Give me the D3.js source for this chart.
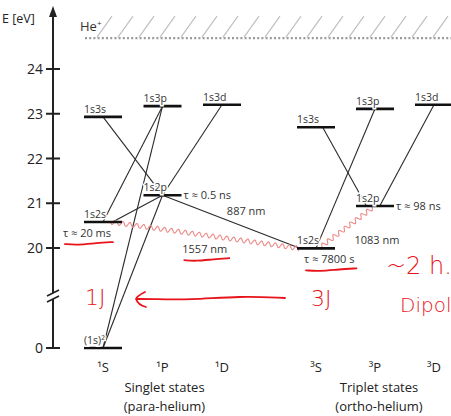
<!DOCTYPE html>
<html>
<head>
<meta charset="utf-8">
<script src="https://cdn.jsdelivr.net/npm/d3@7"></script>
<style>
  body { margin: 0; background: #fff; }
  svg { display: block; font-family: "Open Sans", sans-serif; }
</style>
</head>
<body>
<div id="chart"></div>
<script>
// helium term scheme, energies in eV
var tickValues = [0, 20, 21, 22, 23, 24];
var ionLimit = 24.69;

var singletTerms = ["¹S", "¹P", "¹D"];
var tripletTerms = ["³S", "³P", "³D"];

var levelIds     = ["g", "S2s", "S2p", "S3s", "S3p", "S3d", "T2s", "T2p", "T3s", "T3p", "T3d"];
var levelLabels  = ["(1s)²", "1s2s", "1s2p", "1s3s", "1s3p", "1s3d", "1s2s", "1s2p", "1s3s", "1s3p", "1s3d"];
var levelTerms   = ["¹S", "¹S", "¹P", "¹S", "¹P", "¹D", "³S", "³P", "³S", "³P", "³D"];
var levelEnergy  = [0, 20.58, 21.18, 22.93, 23.17, 23.20, 19.93, 20.94, 22.70, 23.11, 23.20];

var transFrom  = ["S3s", "S3p", "S3p", "S2p", "S3d", "S2p", "S2p", "S2s", "T3s", "T3p", "T3d", "T2p"];
var transTo    = ["S2p", "S2s", "g",   "g",   "S2p", "S2s", "T2s", "T2s", "T2p", "T2s", "T2p", "T2s"];
var transWavy  = [false, false, false, false, false, false, false, true, false, false, false, true];
var transLabel = ["", "", "", "", "", "", "887 nm", "1557 nm", "", "", "", "1083 nm"];

var lifeLevel = ["S2s", "S2p", "T2p", "T2s"];
var lifeText  = ["τ ≈ 20 ms", "τ ≈ 0.5 ns", "τ ≈ 98 ns", "τ ≈ 7800 s"];

var width = 451, height = 416;
var halfW = 19;

var svg = d3.select("#chart").append("svg")
  .attr("width", width)
  .attr("height", height);

var y = d3.scaleLinear().domain([0, 20, 24]).range([348, 248, 69]);
var xS = d3.scalePoint().domain(singletTerms).range([103, 222]);
var xT = d3.scalePoint().domain(tripletTerms).range([316, 434]);
var xCol = function(t) { return singletTerms.indexOf(t) >= 0 ? xS(t) : xT(t); };

var lev = {};
levelIds.forEach(function(id, i) {
  lev[id] = {label: levelLabels[i], x: xCol(levelTerms[i]), y: y(levelEnergy[i])};
});

// ionisation limit: hatching + dotted line
var yIon = y(ionLimit);
var hatch = svg.append("g");
d3.range(97, width, 21).forEach(function(hx) {
  hatch.append("line")
    .attr("x1", hx).attr("y1", yIon - 1)
    .attr("x2", hx + 15).attr("y2", yIon - 22)
    .attr("stroke", "#bdbdbd").attr("stroke-width", 1.1);
});
svg.append("line")
  .attr("x1", 85).attr("x2", width)
  .attr("y1", yIon).attr("y2", yIon)
  .attr("stroke", "#9a9a9a").attr("stroke-width", 2.2)
  .attr("stroke-dasharray", "2,2.2");
svg.append("text")
  .attr("x", 80).attr("y", yIon - 7)
  .attr("font-size", 13).attr("fill", "#333")
  .html('He<tspan dy="-5" font-size="8">+</tspan>');

// axis with break
var axX = 53;
var ax = svg.append("g").attr("stroke", "#222").attr("stroke-width", 2);
ax.append("line").attr("x1", axX).attr("x2", axX).attr("y1", y(0)).attr("y2", 299);
ax.append("line").attr("x1", axX).attr("x2", axX).attr("y1", 293).attr("y2", 14);
svg.append("path")
  .attr("d", "M" + (axX - 4) + ",17 L" + axX + ",6 L" + (axX + 4) + ",17 Z")
  .attr("fill", "#222");
[293, 299].forEach(function(by) {
  ax.append("line")
    .attr("x1", axX - 6).attr("y1", by + 3)
    .attr("x2", axX + 6).attr("y2", by - 3)
    .attr("stroke-width", 1.6);
});
tickValues.forEach(function(t) {
  ax.append("line").attr("x1", axX - 7).attr("x2", axX + 7)
    .attr("y1", y(t)).attr("y2", y(t));
  svg.append("text")
    .attr("x", axX - 10).attr("y", y(t) + 5)
    .attr("text-anchor", "end").attr("font-size", 14).attr("fill", "#222")
    .text(t);
});
svg.append("text")
  .attr("x", 2).attr("y", 23)
  .attr("font-size", 12.5).attr("fill", "#222")
  .text("E [eV]");

// transitions
function endPt(id, f) {
  return [lev[id].x + f * halfW, lev[id].y];
}
var fromShift = [0, 0, 0, 0, 0, 0, 0, 0.4, 0.35, 0, 0, 0];
var toShift   = [0, 0, 0, 0, 0, 0.5, -0.85, -0.9, -0.45, 0, 0.25, 0.15];
var labelOff  = [null, null, null, null, null, null, [15, -11], [0, 14], [30, 12]];
labelOff[11] = [30, 13];

function wavyPath(p0, p1) {
  var dx = p1[0] - p0[0], dy = p1[1] - p0[1];
  var len = Math.sqrt(dx * dx + dy * dy);
  var nx = -dy / len, ny = dx / len;
  var pts = d3.range(0, len, 0.5).map(function(s) {
    var a = 2.2 * Math.sin(2 * Math.PI * s / 7);
    return [p0[0] + dx * s / len + nx * a, p0[1] + dy * s / len + ny * a];
  });
  pts.push(p1);
  return d3.line()(pts);
}

var tg = svg.append("g");
transFrom.forEach(function(f, i) {
  var p0 = endPt(f, fromShift[i]), p1 = endPt(transTo[i], toShift[i]);
  if (transWavy[i]) {
    tg.append("path").attr("d", wavyPath(p0, p1))
      .attr("fill", "none").attr("stroke", "#ec8a88").attr("stroke-width", 1.1);
  } else {
    tg.append("line")
      .attr("x1", p0[0]).attr("y1", p0[1]).attr("x2", p1[0]).attr("y2", p1[1])
      .attr("stroke", "#2a2a2a").attr("stroke-width", 1.1);
  }
  if (transLabel[i]) {
    var o = labelOff[i];
    svg.append("text")
      .attr("id", "tl" + i)
      .attr("x", (p0[0] + p1[0]) / 2 + o[0]).attr("y", (p0[1] + p1[1]) / 2 + o[1] + 4)
      .attr("text-anchor", "middle").attr("font-size", 11).attr("fill", "#333")
      .text(transLabel[i]);
  }
});

// levels
var lg = svg.append("g");
levelIds.forEach(function(id) {
  var l = lev[id];
  lg.append("line")
    .attr("x1", l.x - halfW).attr("x2", l.x + halfW)
    .attr("y1", l.y).attr("y2", l.y)
    .attr("stroke", "#111").attr("stroke-width", 2.6);
  lg.append("text")
    .attr("x", l.x - halfW).attr("y", l.y - 4)
    .attr("font-size", 10.5).attr("fill", "#333")
    .attr("stroke", "#fff").attr("stroke-width", 3).attr("paint-order", "stroke")
    .text(l.label);
});

// lifetimes
var lifeAnchor = {S2s: ["end", 8, 15], S2p: ["start", 21, 4], T2p: ["start", 21, 4], T2s: ["start", -12, 15]};
lifeLevel.forEach(function(id, i) {
  var l = lev[id], a = lifeAnchor[id];
  svg.append("text")
    .attr("id", "life" + id)
    .attr("x", l.x + a[1]).attr("y", l.y + a[2])
    .attr("text-anchor", a[0]).attr("font-size", 11).attr("fill", "#333")
    .text(lifeText[i]);
});

// term labels
singletTerms.concat(tripletTerms).forEach(function(t) {
  svg.append("text")
    .attr("x", xCol(t)).attr("y", 372)
    .attr("text-anchor", "middle").attr("font-size", 13).attr("fill", "#222")
    .text(t);
});
[["Singlet states", "(para-helium)", d3.mean(singletTerms, xS) + 2],
 ["Triplet states", "(ortho-helium)", d3.mean(tripletTerms, xT) + 4]].forEach(function(g) {
  svg.append("text").attr("x", g[2]).attr("y", 392)
    .attr("text-anchor", "middle").attr("font-size", 13).attr("fill", "#222").text(g[0]);
  svg.append("text").attr("x", g[2]).attr("y", 411)
    .attr("text-anchor", "middle").attr("font-size", 13).attr("fill", "#222").text(g[1]);
});

// red hand annotations
var red = "#e8141b";
var pen = svg.append("g").attr("fill", "none").attr("stroke", red)
  .attr("stroke-width", 1.8).attr("stroke-linecap", "round");
["lifeS2s", "tl7", "lifeT2s"].forEach(function(sel) {
  var b = document.getElementById(sel).getBBox();
  var yy = b.y + b.height + 3;
  pen.append("path").attr("d", d3.line().curve(d3.curveBasis)([
    [b.x + 2, yy + 1], [b.x + b.width * 0.3, yy + 2], [b.x + b.width * 0.7, yy], [b.x + b.width + 2, yy - 1]
  ]));
});
pen.append("path").attr("d", d3.line().curve(d3.curveBasis)([[285, 298], [240, 296], [190, 300], [150, 299], [137, 299]]));
pen.append("path").attr("d", "M145,292 Q137,296 136,299 Q138,305 146,307");

var hand = svg.append("g").attr("fill", red)
  .attr("font-family", "DejaVu Sans").attr("font-weight", 200);
hand.append("text").attr("x", 85).attr("y", 305).attr("font-size", 22).text("1J");
hand.append("text").attr("x", 311).attr("y", 306).attr("font-size", 22).text("3J");
hand.append("text").attr("x", 386).attr("y", 274).attr("font-size", 24).text("~2 h.");
hand.append("text").attr("x", 400).attr("y", 312).attr("font-size", 20).text("Dipol");
</script>
</body>
</html>
